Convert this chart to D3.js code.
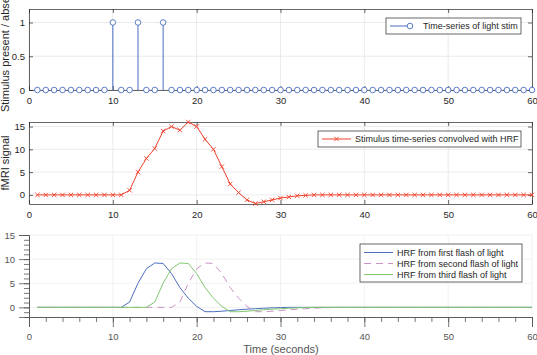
<!DOCTYPE html>
<html>
<head>
<meta charset="utf-8">
<script src="https://cdn.jsdelivr.net/npm/d3@7"></script>
<style>
  body { margin: 0; background: #fff; }
  svg { display: block; font-family: "Liberation Sans", Arial, sans-serif; }
</style>
</head>
<body>
<div id="chart"></div>
<script>
// time samples (seconds)
const time = d3.range(1, 61);

// stimulus: 1 where a flash happened
const flashTimes = [10, 13, 16];
const stim = time.map(t => flashTimes.includes(t) ? 1 : 0);

// convolved signal (t = 1..60)
const bold = [0, 0, 0, 0, 0, 0, 0, 0, 0, 0, 0, 1, 5, 8, 10.2, 14, 15, 14.2, 16, 15,
    12.2, 10, 6.2, 2.4, 0.5, -1.1, -1.9, -1.5, -1.1, -0.7, -0.45, -0.2, -0.1, 0, 0, 0, 0, 0, 0, 0,
    0, 0, 0, 0, 0, 0, 0, 0, 0, 0, 0, 0, 0, 0, 0, 0, 0, 0, 0, 0];

// single HRFs (t = 1..60)
const hrfBlue = [0, 0, 0, 0, 0, 0, 0, 0, 0, 0, 0, 1.1, 5, 8, 9.2, 9.1, 7, 4.1, 1.9, 0.2,
    -0.9, -0.9, -0.8, -0.65, -0.5, -0.38, -0.28, -0.18, -0.1, -0.05, 0, 0, 0, 0, 0, 0, 0, 0, 0, 0,
    0, 0, 0, 0, 0, 0, 0, 0, 0, 0, 0, 0, 0, 0, 0, 0, 0, 0, 0, 0];
const hrfPink = [0, 0, 0, 0, 0, 0, 0, 0, 0, 0, 0, 0, 0, 0, 0, 0, 0, 1.1, 5, 8,
    9.2, 9.1, 7, 4.1, 1.9, 0.2, -0.9, -0.9, -0.8, -0.65, -0.5, -0.38, -0.28, -0.18, -0.1, -0.05, 0, 0, 0, 0,
    0, 0, 0, 0, 0, 0, 0, 0, 0, 0, 0, 0, 0, 0, 0, 0, 0, 0, 0, 0];
const hrfGreen = [0, 0, 0, 0, 0, 0, 0, 0, 0, 0, 0, 0, 0, 0, 1.1, 5, 8, 9.2, 9.1, 7,
    4.1, 1.9, 0.2, -0.9, -0.9, -0.8, -0.65, -0.5, -0.38, -0.28, -0.18, -0.1, -0.05, 0, 0, 0, 0, 0, 0, 0,
    0, 0, 0, 0, 0, 0, 0, 0, 0, 0, 0, 0, 0, 0, 0, 0, 0, 0, 0, 0];

const xTicks = [0, 10, 20, 30, 40, 50, 60];
const yTicks1 = [0, 0.5, 1];
const yTicks2 = [0, 5, 10, 15];
const yTicks3 = [0, 5, 10, 15];

const w = 537, h = 355;
const axisCol = "#262626", gridCol = "#e6e6e6";
const tickFont = 9.5, legFont = 9;

const svg = d3.select("#chart").append("svg")
    .attr("width", w)
    .attr("height", h);

const x = d3.scaleLinear().domain([0, 60]).range([29, 532]);
const y1 = d3.scaleLinear().domain([0, 1.2]).range([90, 9]);
const y2 = d3.scaleLinear().domain([-2, 16]).range([204, 122]);
const y3 = d3.scaleLinear().domain([-2, 15]).range([317, 235]);

// matlab style boxed axes: grid, inward ticks on all sides, labels
function boxAxes(y, yTicks, yFmt) {
    const g = svg.append("g");
    const [y0, yTop] = y.range();
    g.selectAll(".vg").data(xTicks).enter().append("line")
        .attr("x1", d => x(d)).attr("x2", d => x(d))
        .attr("y1", y0).attr("y2", yTop)
        .attr("stroke", gridCol).attr("stroke-width", 0.8);
    g.selectAll(".hg").data(yTicks).enter().append("line")
        .attr("x1", x(0)).attr("x2", x(60))
        .attr("y1", d => y(d)).attr("y2", d => y(d))
        .attr("stroke", gridCol).attr("stroke-width", 0.8);

    const ax = g.append("g").attr("transform", `translate(0,${y0})`)
        .call(d3.axisBottom(x).tickValues(xTicks).tickSizeInner(-4).tickSizeOuter(0).tickPadding(7));
    const axt = g.append("g").attr("transform", `translate(0,${yTop})`)
        .call(d3.axisTop(x).tickValues(xTicks).tickSizeInner(-4).tickSizeOuter(0).tickFormat(""));
    const ay = g.append("g").attr("transform", `translate(${x(0)},0)`)
        .call(d3.axisLeft(y).tickValues(yTicks).tickSizeInner(-4).tickSizeOuter(0).tickPadding(4).tickFormat(yFmt));
    const ayr = g.append("g").attr("transform", `translate(${x(60)},0)`)
        .call(d3.axisRight(y).tickValues(yTicks).tickSizeInner(-4).tickSizeOuter(0).tickFormat(""));
    [ax, axt, ay, ayr].forEach(a => {
        a.select(".domain").attr("stroke", axisCol).attr("stroke-width", 0.7);
        a.selectAll(".tick line").attr("stroke", axisCol).attr("stroke-width", 0.7);
        a.selectAll("text").attr("fill", axisCol).attr("font-size", tickFont)
            .attr("font-family", "Liberation Sans, Arial, sans-serif");
    });
    return g;
}

function legendBox(x0, y0, bw, bh) {
    svg.append("rect")
        .attr("x", x0).attr("y", y0).attr("width", bw).attr("height", bh)
        .attr("fill", "white").attr("stroke", axisCol).attr("stroke-width", 0.7);
}

// ---------- panel 1: stem plot ----------
boxAxes(y1, yTicks1, d => d === 0 ? "0" : (d === 1 ? "1" : "0.5"));
const blue1 = "#4a6fc0";
const stemG = svg.append("g");
stemG.selectAll("line").data(time).enter().append("line")
    .attr("x1", (d, i) => x(d)).attr("x2", (d, i) => x(d))
    .attr("y1", y1(0)).attr("y2", (d, i) => y1(stim[i]))
    .attr("stroke", blue1).attr("stroke-width", 1);
stemG.selectAll("circle").data(time).enter().append("circle")
    .attr("cx", d => x(d)).attr("cy", (d, i) => y1(stim[i]))
    .attr("r", 2.8).attr("fill", "white").attr("stroke", blue1).attr("stroke-width", 0.9);

legendBox(386, 18, 135, 16);
svg.append("line").attr("x1", 390).attr("x2", 413).attr("y1", 26).attr("y2", 26)
    .attr("stroke", blue1).attr("stroke-width", 1);
svg.append("circle").attr("cx", 410).attr("cy", 26).attr("r", 2.8)
    .attr("fill", "white").attr("stroke", blue1).attr("stroke-width", 0.9);
svg.append("text").attr("x", 423).attr("y", 29.3).attr("font-size", legFont)
    .attr("fill", axisCol).text("Time-series of light stim");

svg.append("text")
    .attr("transform", `translate(9,50) rotate(-90)`)
    .attr("text-anchor", "middle").attr("font-size", 11).attr("fill", axisCol)
    .text("Stimulus present / absent");

// ---------- panel 2: convolved ----------
boxAxes(y2, yTicks2, d3.format("d"));
const red = "#f0412d";
const line2 = d3.line().x((d, i) => x(time[i])).y(d => y2(d));
svg.append("path").datum(bold)
    .attr("d", line2).attr("fill", "none").attr("stroke", red).attr("stroke-width", 1);
const xm = 2.2;
svg.append("g").selectAll("path").data(bold).enter().append("path")
    .attr("d", (d, i) => {
        const cx = x(time[i]), cy = y2(d);
        return `M${cx - xm},${cy - xm}L${cx + xm},${cy + xm}M${cx - xm},${cy + xm}L${cx + xm},${cy - xm}`;
    })
    .attr("stroke", red).attr("stroke-width", 0.9);

legendBox(318, 131, 203, 16);
svg.append("line").attr("x1", 322).attr("x2", 351).attr("y1", 139).attr("y2", 139)
    .attr("stroke", red).attr("stroke-width", 1);
svg.append("path")
    .attr("d", `M${336.5 - xm},${139 - xm}L${336.5 + xm},${139 + xm}M${336.5 - xm},${139 + xm}L${336.5 + xm},${139 - xm}`)
    .attr("stroke", red).attr("stroke-width", 0.9);
svg.append("text").attr("x", 355).attr("y", 142.3).attr("font-size", legFont)
    .attr("fill", axisCol).text("Stimulus time-series convolved with HRF");

svg.append("text")
    .attr("transform", `translate(9,163) rotate(-90)`)
    .attr("text-anchor", "middle").attr("font-size", 11).attr("fill", axisCol)
    .text("fMRI signal");

// ---------- panel 3: single HRFs, open axes with minor ticks ----------
const g3 = svg.append("g");
g3.selectAll(".vg").data(xTicks.slice(1)).enter().append("line")
    .attr("x1", d => x(d)).attr("x2", d => x(d))
    .attr("y1", y3(-2)).attr("y2", y3(15))
    .attr("stroke", "#efefef").attr("stroke-width", 0.8);
g3.selectAll(".hg").data(yTicks3).enter().append("line")
    .attr("x1", x(0)).attr("x2", x(60))
    .attr("y1", d => y3(d)).attr("y2", d => y3(d))
    .attr("stroke", "#efefef").attr("stroke-width", 0.8);

const lightAxis = "#555";
const xMinor = g3.append("g").attr("transform", `translate(0,${y3(-2)})`)
    .call(d3.axisBottom(x).tickValues(d3.range(0, 61, 2)).tickSize(5).tickFormat(""));
const xMajor = g3.append("g").attr("transform", `translate(0,${y3(-2)})`)
    .call(d3.axisBottom(x).tickValues(xTicks).tickSize(10).tickPadding(6));
const yMinor = g3.append("g").attr("transform", `translate(${x(0)},0)`)
    .call(d3.axisLeft(y3).tickValues(d3.range(-2, 16, 1)).tickSize(5).tickFormat(""));
const yMajor = g3.append("g").attr("transform", `translate(${x(0)},0)`)
    .call(d3.axisLeft(y3).tickValues(yTicks3).tickSize(10).tickPadding(4));
[xMinor, xMajor, yMinor, yMajor].forEach(a => {
    a.select(".domain").attr("stroke", lightAxis).attr("stroke-width", 0.8);
    a.selectAll(".tick line").attr("stroke", lightAxis).attr("stroke-width", 0.8);
    a.selectAll("text").attr("fill", "#555").attr("font-size", tickFont)
        .attr("font-family", "Liberation Sans, Arial, sans-serif");
});

const line3 = d3.line().x((d, i) => x(time[i])).y(d => y3(d));
const series3 = [
    { vals: hrfBlue, color: "#4c6fbf", dash: null, name: "HRF from first flash of light" },
    { vals: hrfPink, color: "#c994c4", dash: "7,5", name: "HRF from second flash of light" },
    { vals: hrfGreen, color: "#80c870", dash: null, name: "HRF from third flash of light" }
];
series3.forEach(s => {
    svg.append("path").datum(s.vals)
        .attr("d", line3).attr("fill", "none")
        .attr("stroke", s.color).attr("stroke-width", 1)
        .attr("stroke-dasharray", s.dash);
});

legendBox(360, 244, 162, 38);
series3.forEach((s, i) => {
    const yy = 252.5 + i * 11;
    svg.append("line").attr("x1", 364).attr("x2", 393).attr("y1", yy).attr("y2", yy)
        .attr("stroke", s.color).attr("stroke-width", 1)
        .attr("stroke-dasharray", s.dash);
    svg.append("text").attr("x", 397).attr("y", yy + 3.3).attr("font-size", legFont)
        .attr("fill", axisCol).text(s.name);
});

svg.append("text")
    .attr("x", 281).attr("y", 353)
    .attr("text-anchor", "middle").attr("font-size", 11).attr("fill", "#555")
    .text("Time (seconds)");
</script>
</body>
</html>
